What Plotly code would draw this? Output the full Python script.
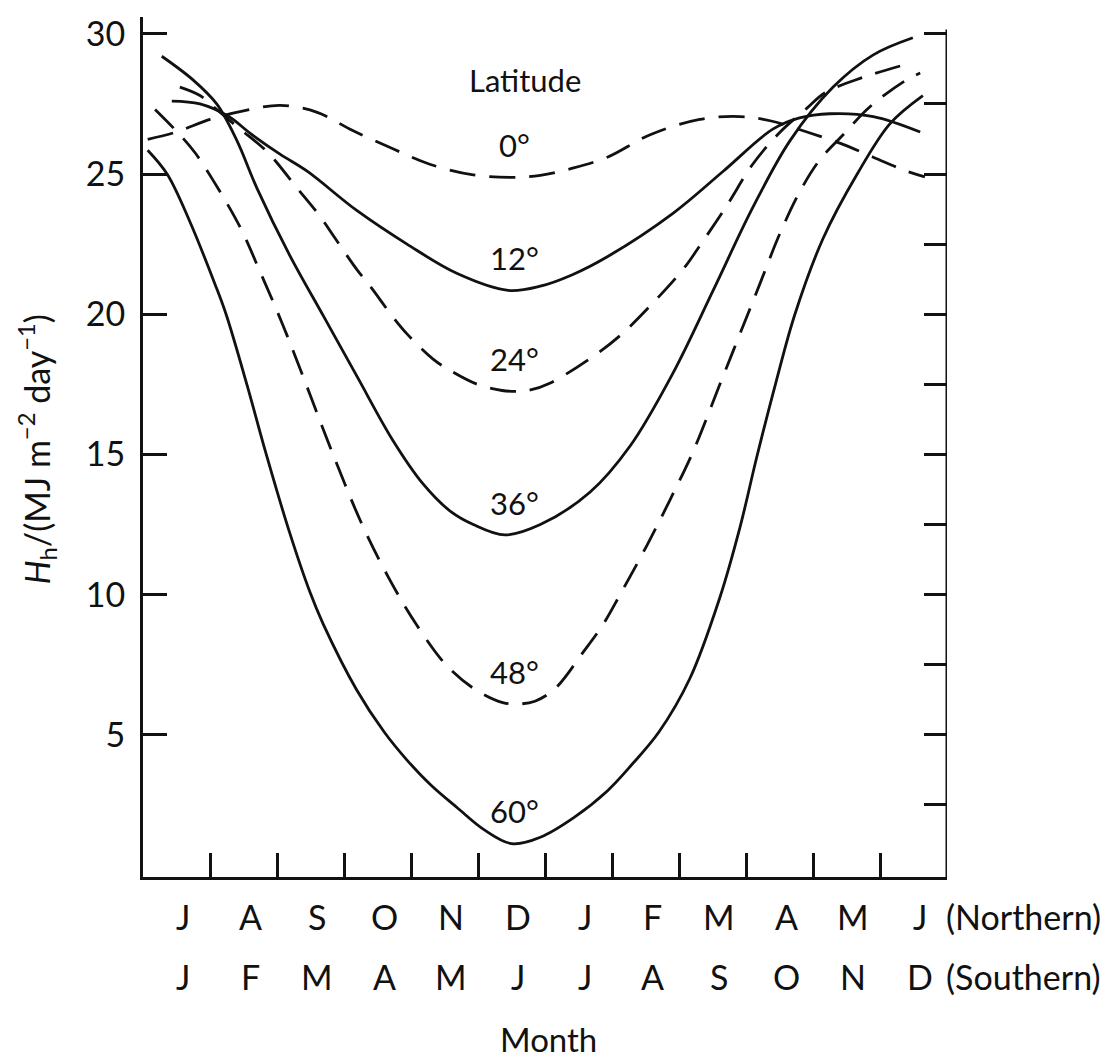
import plotly.graph_objects as go

# ---------------- data ----------------
months_north = ["J", "A", "S", "O", "N", "D", "J", "F", "M", "A", "M", "J"]
months_south = ["J", "F", "M", "A", "M", "J", "J", "A", "S", "O", "N", "D"]

lat0_x = [0.07, 0.5, 1.0, 1.5, 2.05, 2.6, 3.13, 3.73, 4.28, 4.93, 5.5, 5.93, 6.4, 6.93,
          7.57, 8.31, 8.91, 9.36, 9.91, 10.4, 10.9, 11.4, 11.67]
lat0_y = [26.24, 26.5, 26.95, 27.25, 27.45, 27.2, 26.55, 25.9, 25.35, 24.97, 24.88, 24.95,
          25.2, 25.6, 26.4, 26.95, 27.05, 26.9, 26.5, 26.1, 25.6, 25.1, 24.9]

lat12_x = [0.43, 0.85, 1.28, 1.6, 2.05, 2.45, 3.19, 3.94, 4.69, 5.45, 5.93, 6.4, 6.93,
           7.91, 8.66, 9.4, 9.8, 10.25, 10.9, 11.6]
lat12_y = [27.6, 27.5, 27.05, 26.45, 25.7, 25.1, 23.7, 22.5, 21.45, 20.85, 21.0, 21.4, 22.05,
           23.6, 25.1, 26.6, 27.0, 27.15, 27.05, 26.5]

lat24_x = [0.55, 0.85, 1.1, 1.45, 1.85, 2.3, 2.64, 2.87, 3.19, 3.39, 3.73, 3.94, 4.33, 4.58,
           4.99, 5.36, 5.6, 5.75, 6.08, 6.78, 7.15, 7.57, 8.06, 8.27, 8.72, 9.1, 9.51, 9.91,
           10.18, 10.75, 11.37]
lat24_y = [28.1, 27.8, 27.3, 26.6, 25.8, 24.5, 23.5, 22.7, 21.6, 21.0, 19.9, 19.3, 18.4, 18.0,
           17.5, 17.28, 17.25, 17.28, 17.55, 18.6, 19.3, 20.3, 21.6, 22.3, 23.9, 25.35, 26.5,
           27.35, 27.9, 28.45, 28.9]

lat36_x = [0.28, 0.75, 1.1, 1.4, 1.7, 2.19, 2.69, 3.19, 3.73, 4.18, 4.6, 4.93, 5.4, 5.93,
           6.67, 7.27, 7.91, 8.51, 9.1, 9.66, 10.3, 10.9, 11.49]
lat36_y = [29.2, 28.35, 27.5, 26.2, 24.5, 22.1, 19.95, 17.8, 15.5, 13.95, 12.95, 12.5, 12.13,
           12.5, 13.65, 15.3, 17.9, 20.85, 23.8, 26.2, 28.1, 29.25, 29.86]

lat48_x = [0.18, 0.57, 0.78, 1.04, 1.45, 1.75, 2.09, 2.45, 2.82, 3.27, 3.69, 4.09, 4.54, 4.97,
           5.37, 5.6, 5.85, 6.15, 6.57, 6.87, 7.12, 7.52, 7.87, 8.21, 8.61, 8.91, 9.21, 9.51,
           9.81, 10.1, 10.45, 10.85, 11.39, 11.6]
lat48_y = [27.3, 26.35, 25.75, 24.8, 23.1, 21.5, 19.6, 17.4, 15.1, 12.5, 10.5, 8.9, 7.45, 6.6,
           6.15, 6.1, 6.2, 6.65, 7.95, 8.95, 10.0, 11.75, 13.4, 15.1, 17.5, 19.3, 21.1, 22.9,
           24.4, 25.5, 26.4, 27.4, 28.35, 28.6]

lat60_x = [0.07, 0.36, 0.7, 1.07, 1.24, 1.55, 1.84, 2.19, 2.49, 2.69, 3.19, 3.6, 3.94, 4.3,
           4.69, 5.1, 5.5, 5.93, 6.43, 6.93, 7.3, 7.7, 8.16, 8.61, 8.91, 9.16, 9.45, 9.73,
           10.15, 10.66, 11.15, 11.64]
lat60_y = [25.85, 25.0, 23.3, 21.1, 20.0, 17.5, 15.0, 12.2, 10.1, 8.95, 6.6, 5.1, 4.1, 3.2,
           2.4, 1.6, 1.12, 1.35, 2.05, 3.0, 3.95, 5.1, 7.0, 9.9, 12.4, 14.9, 17.6, 20.0,
           22.7, 25.0, 26.8, 27.8]

latitudes = [0, 12, 24, 36, 48, 60]
series_x = [lat0_x, lat12_x, lat24_x, lat36_x, lat48_x, lat60_x]
series_y = [lat0_y, lat12_y, lat24_y, lat36_y, lat48_y, lat60_y]
dashed = [True, False, True, False, True, False]

y_ticks_left = [5, 10, 15, 20, 25, 30]
y_ticks_right = [2.5, 5, 7.5, 10, 12.5, 15, 17.5, 20, 22.5, 25, 27.5, 30]

# ---------------- figure ----------------
FONT = "Lato, 'Gill Sans', sans-serif"
INK = "#111111"
YMIN, YMAX = -0.07, 30.6

fig = go.Figure()
for lat, xs, ys, d in zip(latitudes, series_x, series_y, dashed):
    fig.add_trace(go.Scatter(
        x=xs, y=ys, mode="lines", name=f"{lat}°", hoverinfo="skip",
        line=dict(color=INK, width=2.8, dash="26px,14px" if d else "solid",
                  shape="spline", smoothing=1.0),
    ))
# dummy trace to activate right axis
fig.add_trace(go.Scatter(x=[None], y=[None], yaxis="y2", showlegend=False, hoverinfo="skip"))

annotations = []
# curve labels at each minimum
for lat, xs, ys in zip(latitudes, series_x, series_y):
    annotations.append(dict(x=5.55, y=min(ys) + 1.15, xref="x", yref="y", text=f"{lat}°",
                            showarrow=False, font=dict(family=FONT, size=31, color=INK),
                            xanchor="center", yanchor="middle"))
annotations.append(dict(x=5.7, y=28.35, xref="x", yref="y", text="Latitude", showarrow=False,
                        font=dict(family=FONT, size=31, color=INK),
                        xanchor="center", yanchor="middle"))
# month letters
for i, (mn, ms) in enumerate(zip(months_north, months_south)):
    xpos = i + 0.6
    annotations.append(dict(x=xpos, y=-0.0462, xref="x", yref="paper", text=mn, showarrow=False,
                            font=dict(family=FONT, size=34, color=INK),
                            xanchor="center", yanchor="middle"))
    annotations.append(dict(x=xpos, y=-0.1156, xref="x", yref="paper", text=ms, showarrow=False,
                            font=dict(family=FONT, size=34, color=INK),
                            xanchor="center", yanchor="middle"))
annotations.append(dict(x=12, y=-0.0462, xref="x", yref="paper", text="(Northern)",
                        showarrow=False, xshift=-3,
                        font=dict(family=FONT, size=34, color=INK),
                        xanchor="left", yanchor="middle"))
annotations.append(dict(x=12, y=-0.1156, xref="x", yref="paper", text="(Southern)",
                        showarrow=False, xshift=-3,
                        font=dict(family=FONT, size=34, color=INK),
                        xanchor="left", yanchor="middle"))
annotations.append(dict(x=6.05, y=-0.2135, xref="x", yref="paper", text="Month",
                        showarrow=False, font=dict(family=FONT, size=33, color=INK),
                        xanchor="center", yanchor="bottom"))
annotations.append(dict(x=-0.1318, y=0.497, xref="paper", yref="paper", textangle=-90,
                        text="<i>H</i><sub>h</sub>/(MJ m<sup>−2</sup> day<sup>−1</sup>)",
                        showarrow=False, font=dict(family=FONT, size=34, color=INK),
                        xanchor="center", yanchor="middle"))

fig.update_layout(
    width=1118, height=1063,
    margin=dict(l=143, r=171, t=12, b=186),
    paper_bgcolor="white", plot_bgcolor="white",
    showlegend=False,
    font=dict(family=FONT, color=INK),
    annotations=annotations,
    xaxis=dict(range=[0, 12], showgrid=False, zeroline=False, showline=True,
               linecolor=INK, linewidth=3, ticks="inside", tickvals=list(range(1, 12)),
               ticklen=24, tickwidth=3, tickcolor=INK, showticklabels=False),
    yaxis=dict(range=[YMIN, YMAX], showgrid=False, zeroline=False, showline=True,
               linecolor=INK, linewidth=3, ticks="inside", tickvals=y_ticks_left,
               ticklen=24, tickwidth=3, tickcolor=INK, ticklabelstandoff=8,
               tickfont=dict(family=FONT, size=34, color=INK)),
    yaxis2=dict(range=[YMIN, YMAX], overlaying="y", side="right", showgrid=False,
                zeroline=False, showline=False, ticks="inside", tickvals=y_ticks_right,
                ticklen=23, tickwidth=3, tickcolor=INK, showticklabels=False),
    shapes=[dict(type="line", xref="x", yref="y", x0=12, x1=12, y0=YMIN, y1=30.15,
                 line=dict(color=INK, width=3))],
)

fig.write_html("out.html")
